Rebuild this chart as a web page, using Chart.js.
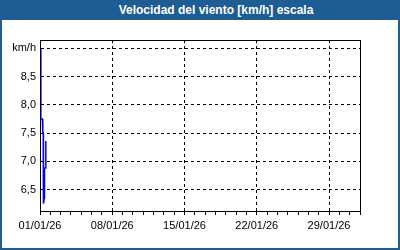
<!DOCTYPE html>
<html>
<head>
<meta charset="utf-8">
<script src="https://cdn.jsdelivr.net/npm/chart.js@4/dist/chart.umd.min.js"></script>
<style>
    body { margin: 0; background: #ffffff; }
    #okvir {
        position: absolute; left: 0; top: 0;
        width: 400px; height: 250px;
        box-sizing: border-box;
        border: 2px solid #1e5d94;
        background: #ffffff;
    }
    #naslov {
        position: absolute; left: 0; top: 0;
        width: 400px; height: 20px;
        background: #1e5d94;
        color: #ffffff;
        font: bold 12px "Liberation Sans", Arial, sans-serif;
        line-height: 20px;
        text-align: center;
        padding-left: 32px;
        box-sizing: border-box;
    }
    #grafik {
        position: absolute; left: 0; top: 20px;
    }
</style>
</head>
<body>
<div id="okvir"></div>
<div id="naslov">Velocidad del viento [km/h] escala</div>
<canvas id="grafik" width="400" height="230"></canvas>
<script>
// podaci ocitani sa slike (sati od 01/01/26 00:00)
const sati = [1.5, 2, 5.5, 6.5, 7.5, 8, 10, 10.5, 13, 13.5];
const brzina = [9.0, 7.75, 7.75, 7.5, 7.5, 6.25, 6.35, 6.88, 6.88, 7.36];

// oznake na x osi (dani od pocetka)
const xDani = [0, 7, 14, 21, 28];
const xOznake = ['01/01/26', '08/01/26', '15/01/26', '22/01/26', '29/01/26'];

// oznake na y osi
const yVrednosti = [6.5, 7.0, 7.5, 8.0, 8.5, 9.0];
const yOznake = ['6,5', '7,0', '7,5', '8,0', '8,5', 'km/h'];

let windChart;

// okvir oko grafikona (gore i desno)
const okvirPlugin = {
    id: 'okvirPlugin',
    afterDraw(chart) {
        const a = chart.chartArea;
        const ctx = chart.ctx;
        ctx.save();
        ctx.strokeStyle = '#000000';
        ctx.lineWidth = 1;
        ctx.strokeRect(Math.round(a.left) + 0.5, Math.round(a.top) + 0.5,
            Math.round(a.right - a.left), Math.round(a.bottom - a.top));
        ctx.restore();
    }
};

function initializeChart() {
    const ctx = document.getElementById('grafik').getContext('2d');
    const tacke = sati.map((h, i) => ({ x: h / 24, y: brzina[i] }));

    windChart = new Chart(ctx, {
        type: 'line',
        data: {
            datasets: [{
                data: tacke,
                borderColor: '#0000ff',
                borderWidth: 1.5,
                pointRadius: 0,
                tension: 0,
                fill: false
            }]
        },
        options: {
            responsive: false,
            animation: false,
            layout: { padding: { left: 0, right: 40, top: 20, bottom: 0 } },
            plugins: {
                legend: { display: false },
                tooltip: { enabled: false }
            },
            scales: {
                x: {
                    type: 'linear',
                    min: 0,
                    max: 31,
                    afterFit: s => { s.height = 39; },
                    afterBuildTicks: s => {
                        s.ticks = [];
                        for (let d = 0; d <= 31; d++) s.ticks.push({ value: d });
                    },
                    grid: {
                        color: c => (c.tick && c.tick.value % 7 === 0 && c.tick.value > 0) ? '#000000' : 'rgba(0,0,0,0)',
                        tickColor: '#000000',
                        tickLength: 4,
                        tickBorderDash: [],
                        lineWidth: 1
                    },
                    border: { display: true, color: '#000000', dash: [3, 3] },
                    ticks: {
                        autoSkip: false,
                        maxRotation: 0,
                        padding: 4,
                        color: '#000000',
                        font: { family: 'Liberation Sans', size: 11 },
                        callback: v => {
                            const i = xDani.indexOf(v);
                            return i >= 0 ? xOznake[i] : '';
                        }
                    }
                },
                y: {
                    min: 6.12,
                    max: 9.15,
                    afterFit: s => { s.width = 40; },
                    afterBuildTicks: s => {
                        s.ticks = yVrednosti.map(v => ({ value: v }));
                    },
                    grid: {
                        color: '#000000',
                        drawTicks: false,
                        lineWidth: 1
                    },
                    border: { display: true, color: '#000000', dash: [3, 3] },
                    ticks: {
                        padding: 4,
                        color: '#000000',
                        font: { family: 'Liberation Sans', size: 11 },
                        callback: (v, i) => yOznake[i]
                    }
                }
            }
        },
        plugins: [okvirPlugin]
    });
}

document.addEventListener('DOMContentLoaded', function() {
    initializeChart();
});
</script>
</body>
</html>
